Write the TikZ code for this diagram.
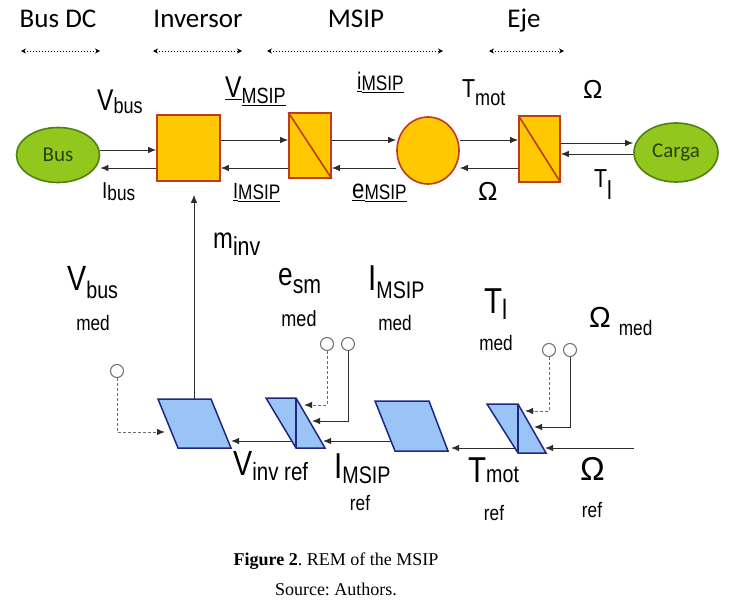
\documentclass[tikz,border=0pt]{standalone}
\usepackage{fontspec}
\setmainfont{Liberation Serif}
\newfontfamily\labf[FakeStretch=0.82]{Liberation Sans}
\newfontfamily\labw{Liberation Sans}
\newfontfamily\calf{Carlito}
\usetikzlibrary{arrows.meta,backgrounds,calc,shapes.geometric}
\frenchspacing
\definecolor{grfill}{RGB}{146,200,30}
\definecolor{grbord}{RGB}{78,128,18}
\definecolor{grtext}{RGB}{40,66,10}
\definecolor{orfill}{RGB}{255,200,0}
\definecolor{orbord}{RGB}{190,60,30}
\definecolor{blfill}{RGB}{153,196,245}
\definecolor{blbord}{RGB}{30,40,130}
\definecolor{cline}{RGB}{45,45,45}
\definecolor{smgray}{RGB}{110,110,110}
\newcommand{\mylab}[5]{{\fontsize{#1}{#1}\selectfont #2}\raisebox{-#5pt}{\fontsize{#3}{#3}\selectfont #4}}
\newcommand{\myul}[1]{\leavevmode\vtop{\hbox{#1}\kern2pt\hrule height 1.2pt}}
\tikzset{
  conn/.style={draw=cline, line width=1pt, -{Latex[length=8pt,width=6.5pt]}},
  dconn/.style={draw=smgray, line width=1pt, dash pattern=on 3pt off 2pt, -{Latex[length=8pt,width=6.5pt,color=cline]}},
  hdr/.style={draw=black, line width=1pt, dotted, {Stealth[length=5pt,width=5pt]}-{Stealth[length=5pt,width=5pt]}},
  ellnode/.style={ellipse, draw=grbord, fill=grfill, line width=1.6pt, inner sep=0pt, text=grtext, font=\calf\fontsize{21}{21}\selectfont},
  orbox/.style={rectangle, draw=orbord, fill=orfill, line width=1.6pt, inner sep=0pt},
  diag/.style={draw=orbord, line width=1.6pt},
  para/.style={draw=blbord, fill=blfill, line width=1.5pt, line join=miter},
  smc/.style={circle, draw=smgray, fill=white, line width=1pt, minimum size=13pt, inner sep=0pt},
  lbl/.style={inner sep=0pt, anchor=base west, font=\labf},
  lblc/.style={inner sep=0pt, anchor=base, font=\labf},
  head/.style={inner sep=0pt, anchor=base, font=\calf\fontsize{27}{27}\selectfont},
}
\begin{document}
\begin{tikzpicture}[x=1pt,y=-1pt]
\useasboundingbox (0,0) rectangle (732,616);
% headers
\node[head] (hbus) at (58,27) {Bus DC};
\node[head] (hinv) at (198,27) {Inversor};
\node[head] (hmsip) at (356,27) {MSIP};
\node[head] (heje) at (524,27) {Eje};
\coordinate (d1a) at (21,51); \coordinate (d1b) at (100,51);
\coordinate (d2a) at (153,51); \coordinate (d2b) at (242,51);
\coordinate (d3a) at (267,51); \coordinate (d3b) at (443,51);
\coordinate (d4a) at (489,51); \coordinate (d4b) at (564,51);
\draw[hdr] (d1a) -- (d1b);
\draw[hdr] (d2a) -- (d2b);
\draw[hdr] (d3a) -- (d3b);
\draw[hdr] (d4a) -- (d4b);
% top row
\node[ellnode, minimum width=83pt, minimum height=55pt] (bus) at (58,155) {Bus};
\node[orbox, minimum width=63pt, minimum height=66pt] (inv) at (188.5,148) {};
\node[orbox, minimum width=42pt, minimum height=65pt] (c1) at (310,145.5) {};
\draw[diag] (c1.north west) -- (c1.south east);
\node[orbox, ellipse, minimum width=62pt, minimum height=67pt] (mot) at (428,150.5) {};
\node[orbox, minimum width=41pt, minimum height=66pt] (c2) at (539.5,149) {};
\draw[diag] (c2.north west) -- (c2.south east);
\node[ellnode, minimum width=84pt, minimum height=59pt] (carga) at (676,152.5) {Carga};
\coordinate (y140) at (0,140);
\coordinate (y143) at (0,143);
\coordinate (y150) at (0,150);
\coordinate (y154) at (0,154);
\coordinate (y168) at (0,168);
\begin{scope}[on background layer]
\draw[conn] (bus.east |- y150) -- (inv.west |- y150);
\draw[conn] (inv.west |- y168) -- (bus.east |- y168);
\draw[conn] (inv.east |- y140) -- (c1.west |- y140);
\draw[conn] (c1.west |- y168) -- (inv.east |- y168);
\draw[conn] (c1.east |- y140) -- (mot.west |- y140);
\draw[conn] (mot.west |- y168) -- (c1.east |- y168);
\draw[conn] (mot.east |- y140) -- (c2.west |- y140);
\draw[conn] (c2.west |- y168) -- (mot.east |- y168);
\draw[conn] (c2.east |- y143) -- (carga.west |- y143);
\draw[conn] (carga.west |- y154) -- (c2.east |- y154);
\end{scope}
% top labels
\node[lbl] (lvbus) at (97,110) {\mylab{30}{V}{22}{bus}{3}};
\node[lbl] (libus) at (102,198) {\mylab{23}{I}{21}{bus}{2}};
\node[lbl] (lvmsip) at (225,97) {\mylab{30}{\myul{V}}{22}{\myul{MSIP}}{6}};
\node[lbl] (limsip) at (233,198) {\mylab{22}{\myul{I}}{21}{\myul{MSIP}}{1}};
\node[lbl] (lismall) at (357,89) {\mylab{24}{\myul{i}}{21}{\myul{MSIP}}{1}};
\node[lbl] (lemsip) at (352,198) {\mylab{27}{\myul{e}}{21}{\myul{MSIP}}{1}};
\node[lbl] (ltmot) at (462,97) {\mylab{26}{T}{22}{mot}{8}};
\node[lbl, font=\labw\fontsize{26}{26}\selectfont] (lom1) at (583,98) {Ω};
\node[lbl, font=\labw\fontsize{26}{26}\selectfont] (lom2) at (478,200) {Ω};
\node[lbl] (ltl) at (594,187) {\mylab{26}{T}{26}{l}{12}};
% bottom blocks
\coordinate (p1a) at (158,399); \coordinate (p1b) at (211,399);
\coordinate (p1c) at (231,448); \coordinate (p1d) at (178,448);
\draw[para] (p1a) -- (p1b) -- (p1c) -- (p1d) -- cycle;
\coordinate (p2a) at (266,398); \coordinate (p2b) at (296,398);
\coordinate (p2c) at (325,448); \coordinate (p2d) at (296,448);
\draw[para] (p2a) -- (p2b) -- (p2c) -- (p2d) -- cycle;
\draw[para] (p2b) -- (p2d);
\coordinate (p3a) at (375,401); \coordinate (p3b) at (429,401);
\coordinate (p3c) at (448,451); \coordinate (p3d) at (395,451);
\draw[para] (p3a) -- (p3b) -- (p3c) -- (p3d) -- cycle;
\coordinate (p4a) at (487,404); \coordinate (p4b) at (518,404);
\coordinate (p4c) at (546,453); \coordinate (p4d) at (518,453);
\draw[para] (p4a) -- (p4b) -- (p4c) -- (p4d) -- cycle;
\draw[para] (p4b) -- (p4d);
% m_inv
\coordinate (pm) at (194,399);
\coordinate (minvtip) at ($(inv.south)+(5.5,13)$);
\draw[conn] (pm) -- (minvtip);
% small circles
\node[smc] (s1) at (117,371) {};
\node[smc] (s2) at (327,344) {};
\node[smc] (s3) at (348,344) {};
\node[smc] (s4) at (549,350) {};
\node[smc] (s5) at (570,350) {};
\coordinate (t1) at (165,432);
\coordinate (t2) at (304,405);
\coordinate (t3) at (312,421);
\coordinate (t4) at (525,411);
\coordinate (t5) at (534,427);
\draw[dconn] (s1.south) |- (t1);
\draw[dconn] (s2.south) |- (t2);
\draw[conn] (s3.south) |- (t3);
\draw[dconn] (s4.south) |- (t4);
\draw[conn] (s5.south) |- (t5);
% bottom arrows
\coordinate (a21s) at (291,441); \coordinate (a21t) at (231,441);
\coordinate (a32s) at (391,441); \coordinate (a32t) at (323,441);
\coordinate (a43s) at (515,448); \coordinate (a43t) at (451,448);
\coordinate (arfs) at (634,448); \coordinate (arft) at (545,448);
\draw[conn] (a21s) -- (a21t);
\draw[conn] (a32s) -- (a32t);
\draw[conn] (a43s) -- (a43t);
\draw[conn] (arfs) -- (arft);
% bottom labels
\node[lbl] (lminv) at (213,248) {\mylab{29}{m}{26}{inv}{7}};
\node[lbl] (lvbusm) at (67,290) {\mylab{35}{V}{24}{bus}{8}};
\node[lblc] (lvbusmed) at (93,330) {\fontsize{21}{21}\selectfont med};
\node[lbl] (lesm) at (278,285) {\mylab{32}{e}{26}{sm}{8}};
\node[lblc] (lesmmed) at (299,326) {\fontsize{22}{22}\selectfont med};
\node[lbl] (limed) at (368,290) {\mylab{36}{I}{24}{MSIP}{8}};
\node[lblc] (limedm) at (395,330) {\fontsize{21}{21}\selectfont med};
\node[lbl] (ltlm) at (484,313) {\mylab{36}{T}{28}{l}{6}};
\node[lblc] (ltlmed) at (496,350) {\fontsize{21}{21}\selectfont med};
\node[lbl] (lommed) at (589,327) {{\labw\fontsize{29}{29}\selectfont Ω}\hspace{8pt}\raisebox{-8pt}{\fontsize{21}{21}\selectfont med}};
\node[lbl] (lvinv) at (233,475) {\mylab{35}{V}{25}{inv ref}{5}};
\node[lbl] (lims) at (334,478) {\mylab{36}{I}{24}{MSIP}{5}};
\node[lblc] (limsref) at (360,510) {\fontsize{21}{21}\selectfont ref};
\node[lbl] (ltmr) at (468,482) {\mylab{36}{T}{24}{mot}{0}};
\node[lblc] (ltmref) at (494,520) {\fontsize{21}{21}\selectfont ref};
\node[lbl, font=\labw\fontsize{33}{33}\selectfont] (lomr) at (580,480) {Ω};
\node[lblc] (lomref) at (592,517) {\fontsize{21}{21}\selectfont ref};
% caption
\node[inner sep=0pt, anchor=base] (cap) at (336,565) {\fontsize{18}{18}\selectfont\textbf{Figure 2}. REM of the MSIP};
\node[inner sep=0pt, anchor=base] (src) at (336,595) {\fontsize{18}{18}\selectfont Source: Authors.};
\end{tikzpicture}
\end{document}
